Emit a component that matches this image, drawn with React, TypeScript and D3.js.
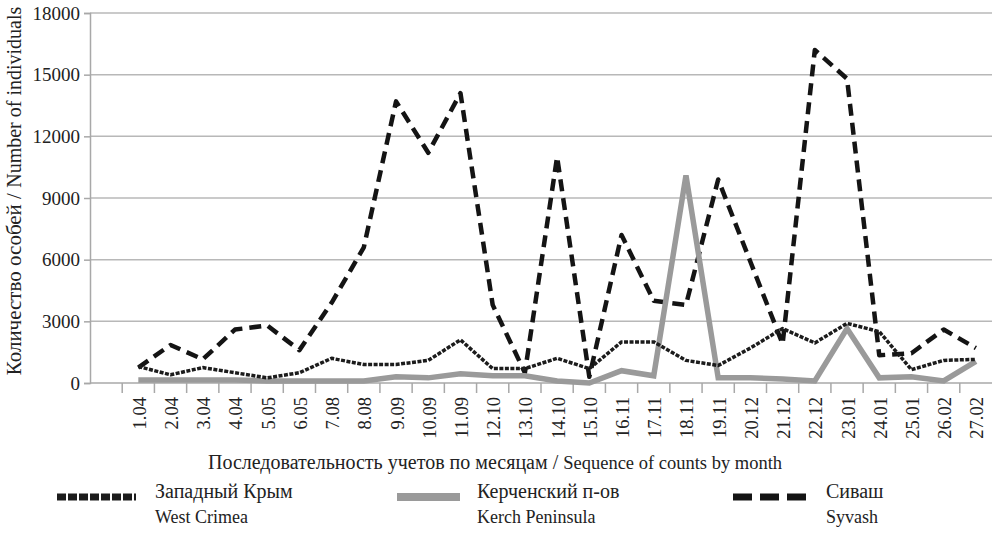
import * as d3 from 'd3'
import React, { useEffect, useRef } from 'react'

const categories = [
  '1.04', '2.04', '3.04', '4.04', '5.05', '6.05', '7.08', '8.08', '9.09',
  '10.09', '11.09', '12.10', '13.10', '14.10', '15.10', '16.11', '17.11',
  '18.11', '19.11', '20.12', '21.12', '22.12', '23.01', '24.01', '25.01',
  '26.02', '27.02',
]

const westCrimea = [
  800, 400, 750, 500, 250, 500, 1200, 900, 900, 1100, 2100, 700, 700, 1200,
  700, 2000, 2000, 1100, 850, 1700, 2650, 1950, 2900, 2500, 650, 1100, 1150,
]
const kerch = [
  150, 150, 150, 150, 100, 100, 100, 100, 300, 250, 450, 350, 350, 100,
  0, 600, 350, 10100, 250, 250, 200, 100, 2650, 250, 300, 100, 1050,
]
const syvash = [
  750, 1850, 1150, 2600, 2800, 1600, 3900, 6600, 13700, 11200, 14100, 3800,
  500, 11000, 300, 7200, 4000, 3800, 9900, 5900, 1900, 16200, 14800, 1350,
  1450, 2600, 1700,
]

const yTicks = [0, 3000, 6000, 9000, 12000, 15000, 18000]

const FONT = "'Liberation Serif', 'Times New Roman', Times, 'DejaVu Serif', serif"

const App = () => {
  const svgRef = useRef<any>(null)

  useEffect(() => {
    if (!svgRef.current) return
    const svg = d3.select(svgRef.current)
    svg.selectAll('*').remove()

    const left = 90
    const right = 992
    const top = 13
    const bottom = 383

    // first band is an empty slot, as in the original chart
    const x = d3.scaleBand<string>()
      .domain([' ', ...categories])
      .range([left, right])
      .padding(0)
    const y = d3.scaleLinear().domain([0, 18000]).range([bottom, top])
    const cx = (c: string) => (x(c) as number) + x.bandwidth() / 2

    // gridlines
    svg.append('g')
      .selectAll('line')
      .data(yTicks.filter((t) => t > 0))
      .enter()
      .append('line')
      .attr('x1', left)
      .attr('x2', right)
      .attr('y1', (d) => y(d))
      .attr('y2', (d) => y(d))
      .attr('stroke', '#b8b8b8')
      .attr('stroke-width', 1.5)

    // y axis
    const yAxis = svg.append('g').attr('transform', `translate(${left},0)`)
      .call(d3.axisLeft(y).tickValues(yTicks).tickSize(6).tickFormat((d) => String(d)))
    yAxis.attr('font-family', null).attr('font-size', null)
    yAxis.select('.domain').attr('stroke', '#a8a8a8').attr('stroke-width', 1.5)
    yAxis.selectAll('.tick line').attr('stroke', '#a8a8a8').attr('stroke-width', 1.5)
    yAxis.selectAll('.tick text')
      .attr('x', -10)
      .style('font-size', '19px')
      .attr('fill', '#222')

    // x axis
    svg.append('line')
      .attr('x1', left).attr('x2', right)
      .attr('y1', bottom).attr('y2', bottom)
      .attr('stroke', '#a8a8a8').attr('stroke-width', 1.5)
    svg.append('g')
      .selectAll('line')
      .data(categories)
      .enter()
      .append('line')
      .attr('x1', (d) => x(d) as number)
      .attr('x2', (d) => x(d) as number)
      .attr('y1', bottom)
      .attr('y2', bottom + 10)
      .attr('stroke', '#a8a8a8')
      .attr('stroke-width', 1.5)
    svg.append('g')
      .selectAll('text')
      .data(categories)
      .enter()
      .append('text')
      .attr('transform', (d) => `translate(${cx(d) + 1},${bottom + 14}) rotate(-90)`)
      .attr('text-anchor', 'end')
      .attr('dy', '0.35em')
      .style('font-size', '18.5px')
      .attr('fill', '#222')
      .text((d) => d)

    const line = d3.line<number>()
      .x((d, i) => cx(categories[i]))
      .y((d) => y(d))

    // Syvash
    svg.append('path')
      .attr('d', line(syvash))
      .attr('fill', 'none')
      .attr('stroke', '#141414')
      .attr('stroke-width', 4.5)
      .attr('stroke-dasharray', '12 7')
      .attr('stroke-linejoin', 'round')

    // Kerch Peninsula
    svg.append('path')
      .attr('d', line(kerch))
      .attr('fill', 'none')
      .attr('stroke', '#9a9a9a')
      .attr('stroke-width', 5.5)
      .attr('stroke-linejoin', 'miter')

    // West Crimea
    svg.append('path')
      .attr('d', line(westCrimea))
      .attr('fill', 'none')
      .attr('stroke', '#1c1c1c')
      .attr('stroke-width', 3.5)
      .attr('stroke-dasharray', '4 1.5')
      .attr('stroke-linejoin', 'round')

    // axis titles
    const yTitle = svg.append('text')
      .attr('transform', `translate(21,${191}) rotate(-90)`)
      .attr('text-anchor', 'middle')
      .attr('fill', '#222')
    yTitle.append('tspan').style('font-size', '21px').text('Количество особей / ')
    yTitle.append('tspan').style('font-size', '20px').text('Number of individuals')

    const xTitle = svg.append('text')
      .attr('x', 495)
      .attr('y', 469)
      .attr('text-anchor', 'middle')
      .attr('fill', '#222')
    xTitle.append('tspan').style('font-size', '20px').text('Последовательность учетов по месяцам / ')
    xTitle.append('tspan').style('font-size', '18.5px').text('Sequence of counts by month')

    // legend
    const legend = [
      { ru: 'Западный Крым', en: 'West Crimea', x0: 57, x1: 136, tx: 155, color: '#1c1c1c', width: 7, dash: '9 2' },
      { ru: 'Керченский п-ов', en: 'Kerch Peninsula', x0: 397, x1: 460, tx: 477, color: '#9a9a9a', width: 8, dash: null },
      { ru: 'Сиваш', en: 'Syvash', x0: 733, x1: 807, tx: 826, color: '#141414', width: 7, dash: '19 8' },
    ]
    const lg = svg.append('g')
      .selectAll('g')
      .data(legend)
      .enter()
      .append('g')
    lg.append('line')
      .attr('x1', (d) => d.x0)
      .attr('x2', (d) => d.x1)
      .attr('y1', 497)
      .attr('y2', 497)
      .attr('stroke', (d) => d.color)
      .attr('stroke-width', (d) => d.width)
      .attr('stroke-dasharray', (d) => d.dash)
    lg.append('text')
      .attr('x', (d) => d.tx)
      .attr('y', 498)
      .style('font-size', '20px')
      .attr('fill', '#222')
      .text((d) => d.ru)
    lg.append('text')
      .attr('x', (d) => d.tx)
      .attr('y', 523)
      .style('font-size', '18px')
      .attr('fill', '#222')
      .text((d) => d.en)
  }, [])

  return (
    <svg
      ref={svgRef}
      width={995}
      height={537}
      style={{ position: 'absolute', left: 0, top: 0, background: '#fff', fontFamily: FONT }}
    />
  )
}

export default App
